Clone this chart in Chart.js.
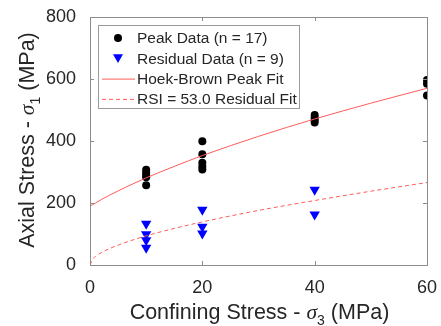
<!DOCTYPE html>
<html>
<head>
<meta charset="utf-8">
<script src="https://cdn.jsdelivr.net/npm/chart.js@4.4.0/dist/chart.umd.min.js"></script>
<style>
  body { margin: 0; background: #fff; }
  #wrap { width: 441px; height: 326px; }
</style>
</head>
<body>
<div id="wrap"><canvas id="chart" width="441" height="326"></canvas></div>
<script>
// peak test data (sigma3, sigma1)
var peakX = [10, 10, 10, 10, 10, 20, 20, 20, 20, 20, 40, 40, 40, 40, 60, 60, 60];
var peakY = [307, 298, 290, 283, 257, 399, 357, 330, 318, 308, 484, 475, 467, 460, 597, 585, 547];

// residual test data
var resX = [10, 10, 10, 10, 20, 20, 20, 40, 40];
var resY = [133, 99, 80, 56, 178, 123, 102, 243, 163];

// fitted curves
var fitX = [0, 0.5, 1, 2, 5, 10, 15, 20, 30, 40, 50, 60];
var peakFit = [190, 195, 200, 211, 239, 281, 318, 353, 415, 471, 522, 570];
var resFit = [0, 19, 28, 40, 64, 94, 118, 139, 176, 208, 238, 266];

var xTicks = [0, 20, 40, 60];
var yTicks = [0, 200, 400, 600, 800];

var textColor = '#262626';
var axisColor = '#8c8c8c';
var fontName = '"Liberation Sans", Arial, sans-serif';

function pairs(xs, ys) {
    var out = [];
    for (var i = 0; i < xs.length; i++) {
        out.push({ x: xs[i], y: ys[i] });
    }
    return out;
}

var legendItems = [
    { label: 'Peak Data (n = 17)', kind: 'dot' },
    { label: 'Residual Data (n = 9)', kind: 'tri' },
    { label: 'Hoek-Brown Peak Fit', kind: 'line' },
    { label: 'RSI = 53.0 Residual Fit', kind: 'dash' }
];

function drawTri(ctx, x, y, s) {
    ctx.beginPath();
    ctx.moveTo(x - s, y - s * 0.8);
    ctx.lineTo(x + s, y - s * 0.8);
    ctx.lineTo(x, y + s * 0.95);
    ctx.closePath();
    ctx.fill();
}

// draws the text with an italic sigma and a subscript
function richTitle(ctx, parts, x, y) {
    var total = 0;
    parts.forEach(function (p) {
        ctx.font = p.font;
        p.w = ctx.measureText(p.t).width;
        total += p.w;
    });
    var cx = x - total / 2;
    parts.forEach(function (p) {
        ctx.font = p.font;
        ctx.fillText(p.t, cx, y + (p.dy || 0));
        cx += p.w;
    });
}

var decor = {
    id: 'decor',
    afterDatasetsDraw: function (chart) {
        var ctx = chart.ctx;
        var a = chart.chartArea;
        var xs = chart.scales.x;
        var ys = chart.scales.y;
        ctx.save();
        // box
        ctx.strokeStyle = axisColor;
        ctx.lineWidth = 1;
        ctx.strokeRect(Math.round(a.left) + 0.5, Math.round(a.top) + 0.5,
            Math.round(a.right - a.left), Math.round(a.bottom - a.top));
        // inward ticks
        ctx.beginPath();
        xTicks.forEach(function (v) {
            var px = Math.round(xs.getPixelForValue(v)) + 0.5;
            ctx.moveTo(px, a.bottom); ctx.lineTo(px, a.bottom - 4);
            ctx.moveTo(px, a.top); ctx.lineTo(px, a.top + 4);
        });
        yTicks.forEach(function (v) {
            var py = Math.round(ys.getPixelForValue(v)) + 0.5;
            ctx.moveTo(a.left, py); ctx.lineTo(a.left + 4, py);
            ctx.moveTo(a.right, py); ctx.lineTo(a.right - 4, py);
        });
        ctx.stroke();

        // axis titles
        ctx.fillStyle = textColor;
        ctx.textBaseline = 'alphabetic';
        ctx.textAlign = 'left';
        var f = '21.5px ' + fontName;
        var g = 'italic 21.5px "Liberation Serif", "DejaVu Serif", serif';
        var s = '14px ' + fontName;
        richTitle(ctx, [
            { t: 'Confining Stress - ', font: f },
            { t: '\u03c3', font: g },
            { t: '3', font: s, dy: 6 },
            { t: ' (MPa)', font: f }
        ], (a.left + a.right) / 2 + 1, 319);
        ctx.save();
        ctx.translate(34, (a.top + a.bottom) / 2 - 1);
        ctx.rotate(-Math.PI / 2);
        richTitle(ctx, [
            { t: 'Axial Stress - ', font: f },
            { t: '\u03c3', font: g },
            { t: '1', font: s, dy: 6 },
            { t: ' (MPa)', font: f }
        ], 0, 0);
        ctx.restore();

        // legend
        var lx = 98, ly = 25, lw = 201, lh = 83;
        ctx.fillStyle = '#fff';
        ctx.fillRect(lx, ly, lw, lh);
        ctx.strokeStyle = '#9a9a9a';
        ctx.strokeRect(lx + 0.5, ly + 0.5, lw, lh);
        ctx.font = '15.5px ' + fontName;
        ctx.textBaseline = 'middle';
        legendItems.forEach(function (it, i) {
            var y = 38 + i * 20.3;
            if (it.kind === 'dot') {
                ctx.fillStyle = '#000';
                ctx.beginPath();
                ctx.arc(118, y, 4, 0, Math.PI * 2);
                ctx.fill();
            } else if (it.kind === 'tri') {
                ctx.fillStyle = '#0000ff';
                drawTri(ctx, 118, y, 5);
            } else {
                ctx.strokeStyle = '#ff5a5a';
                ctx.lineWidth = 1;
                ctx.setLineDash(it.kind === 'dash' ? [4, 3] : []);
                ctx.beginPath();
                ctx.moveTo(102, y + 0.5);
                ctx.lineTo(135, y + 0.5);
                ctx.stroke();
                ctx.setLineDash([]);
            }
            ctx.fillStyle = textColor;
            ctx.fillText(it.label, 137, y + 1);
        });
        ctx.restore();
    }
};

new Chart(document.getElementById('chart').getContext('2d'), {
    type: 'scatter',
    data: {
        datasets: [{
            label: 'Peak Data (n = 17)',
            data: pairs(peakX, peakY),
            pointStyle: 'circle',
            pointRadius: 4,
            backgroundColor: '#000',
            borderColor: '#000',
            borderWidth: 0,
            order: 3
        }, {
            label: 'Residual Data (n = 9)',
            data: pairs(resX, resY),
            pointStyle: 'triangle',
            rotation: 180,
            pointRadius: 6,
            backgroundColor: '#0000ff',
            borderColor: '#0000ff',
            borderWidth: 0,
            order: 2
        }, {
            label: 'Hoek-Brown Peak Fit',
            data: pairs(fitX, peakFit),
            showLine: true,
            pointRadius: 0,
            borderColor: '#ff5a5a',
            borderWidth: 1,
            cubicInterpolationMode: 'monotone',
            order: 1
        }, {
            label: 'RSI = 53.0 Residual Fit',
            data: pairs(fitX, resFit),
            showLine: true,
            pointRadius: 0,
            borderColor: '#ff5a5a',
            borderWidth: 1,
            borderDash: [4, 3],
            cubicInterpolationMode: 'monotone',
            order: 0
        }]
    },
    options: {
        responsive: false,
        animation: false,
        layout: { padding: { top: 17, right: 14, left: 0, bottom: 0 } },
        plugins: {
            legend: { display: false },
            tooltip: { enabled: false }
        },
        scales: {
            x: {
                type: 'linear',
                min: 0, max: 60,
                afterFit: function (s) { s.height = 61; },
                afterBuildTicks: function (s) { s.ticks = xTicks.map(function (v) { return { value: v }; }); },
                grid: { display: false },
                border: { display: false },
                ticks: { color: textColor, font: { family: fontName, size: 18 }, padding: 4, maxRotation: 0 }
            },
            y: {
                type: 'linear',
                min: 0, max: 800,
                afterFit: function (s) { s.width = 90; },
                afterBuildTicks: function (s) { s.ticks = yTicks.map(function (v) { return { value: v }; }); },
                grid: { display: false },
                border: { display: false },
                ticks: { color: textColor, font: { family: fontName, size: 18 }, padding: 6 }
            }
        }
    },
    plugins: [decor]
});
</script>
</body>
</html>
